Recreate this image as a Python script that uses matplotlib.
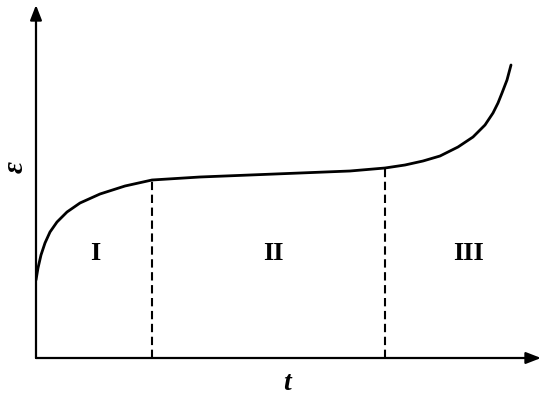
import matplotlib.pyplot as plt

# creep curve (t, strain), arbitrary units
t = [0, 2, 5, 9, 14, 21, 31, 44, 64, 89, 116, 164, 214, 264, 314, 349,
     369, 387, 404, 422, 437, 449, 457, 462, 466, 471, 475]
eps = [78, 90, 103, 115, 126, 136, 146, 155, 164, 172, 178, 181, 183, 185,
       187, 190, 193, 197, 202, 211, 221, 233, 245, 255, 265, 278, 293]

# stage boundaries (t) and stage labels
bounds = [116, 349]
stages = ["I", "II", "III"]
stage_x = [59, 237, 432]
stage_y = 104

t_max, eps_max = 505, 353

fig = plt.figure(figsize=(5.5, 4.04), dpi=100)
ax = fig.add_axes([36 / 550, 46 / 404, (541 - 36) / 550, (358 - 5) / 404])
ax.set_xlim(0, t_max)
ax.set_ylim(0, eps_max)
ax.set_axis_off()

# axes with arrow heads
arrow = dict(arrowstyle="-|>,head_length=0.9,head_width=0.35", lw=1.6,
             color="black", shrinkA=0, shrinkB=0)
ax.annotate("", xy=(t_max, 0), xytext=(0, 0), arrowprops=arrow,
            annotation_clip=False)
ax.annotate("", xy=(0, eps_max), xytext=(0, 0), arrowprops=arrow,
            annotation_clip=False)

ax.plot(t, eps, color="black", lw=2.0, solid_capstyle="round")

for b in bounds:
    e = eps[t.index(b)]
    ax.plot([b, b], [0, e], color="black", lw=1.5, ls=(0, (4, 2.2)))

for s, x in zip(stages, stage_x):
    ax.text(x, stage_y, s, ha="center", va="center", fontsize=19,
            fontweight="bold", family="Liberation Serif")

fig.text(287 / 550, 1 - 384 / 404, "t", ha="center", va="center",
         fontsize=20, fontweight="bold", style="italic",
         family="Liberation Serif")
fig.text(15 / 550, 1 - 167 / 404, "ε", ha="center", va="center",
         fontsize=21, style="italic", fontweight="bold", rotation=90,
         family="Liberation Serif")

fig.savefig("out.png", dpi=100)
